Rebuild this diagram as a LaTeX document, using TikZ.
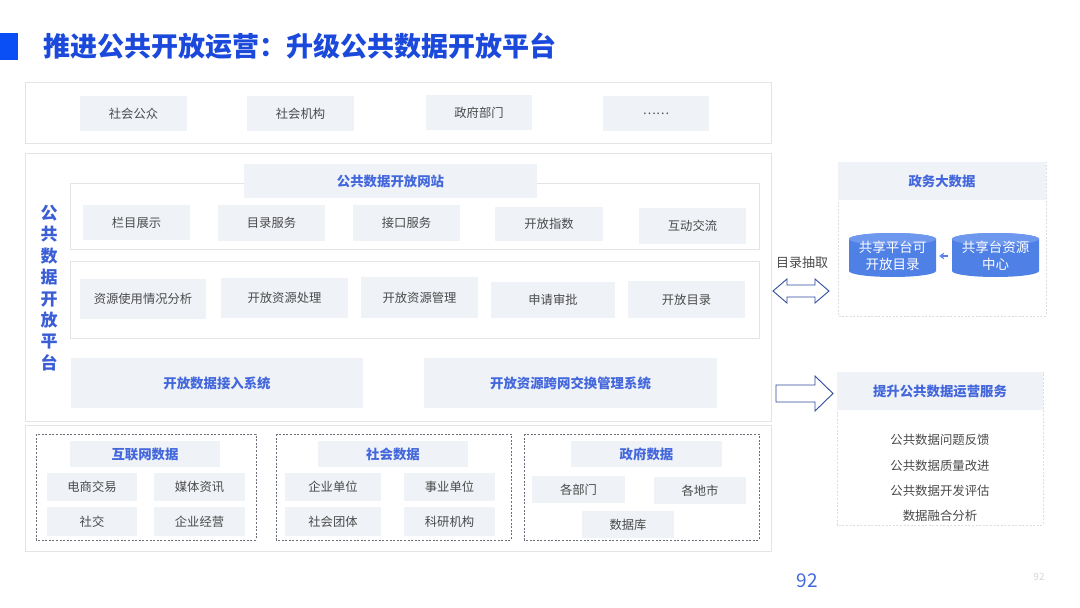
\documentclass[tikz,border=0pt]{standalone}
\usepackage{fontspec}
\setmainfont{Noto Sans CJK SC}
\usetikzlibrary{arrows.meta}
\definecolor{titleblue}{HTML}{1B49DC}
\definecolor{squareblue}{HTML}{0A4FF5}
\definecolor{headblue}{HTML}{4468DC}
\definecolor{vertblue}{HTML}{3B5ED6}
\definecolor{framegray}{HTML}{E2E4E8}
\definecolor{itemfill}{HTML}{EFF2F7}
\definecolor{txtgray}{HTML}{4A4A4A}
\definecolor{grpgray}{HTML}{6A6E78}
\definecolor{lightdash}{HTML}{DADDE4}
\definecolor{cylbody}{HTML}{4F80E6}
\definecolor{cyltop}{HTML}{6E98EE}
\definecolor{arrowline}{HTML}{2E4C9E}
\definecolor{pagegray}{HTML}{D8D8D8}
\begin{document}
\begin{tikzpicture}[x=1pt,y=-1pt,
  frame/.style={draw=framegray, line width=0.9pt, fill=white},
  itembox/.style={fill=itemfill, text=txtgray, font=\fontsize{12.3}{14}\selectfont, inner sep=0pt},
  headbox/.style={fill=itemfill, text=headblue, font=\fontsize{13.4}{16}\bfseries\selectfont, inner sep=0pt},
  grp/.style={draw=grpgray, line width=0.7pt, dash pattern=on 2pt off 1.6pt},
  rbox/.style={draw=lightdash, line width=0.7pt, dash pattern=on 2pt off 1.6pt, fill=white},
  blockarrow/.style={draw=arrowline, line width=0.9pt, fill=white, line join=miter},
  cyltext/.style={text=white, font=\fontsize{13.5}{17}\selectfont, align=center, inner sep=0pt},
  listtext/.style={text=txtgray, font=\fontsize{12.4}{14}\selectfont, inner sep=0pt}
]
\useasboundingbox (0,0) rectangle (1080,608);
\fill[white] (0,0) rectangle (1080,608);

% title
\fill[squareblue] (0,33) rectangle (18,60);
\node[anchor=west, text=titleblue, font=\fontsize{27}{30}\bfseries\selectfont, inner sep=0pt] (title) at (43,46) {推进公共开放运营：升级公共数据开放平台};

% top users row
\draw[frame] (25,82) rectangle (771,143);
\node[itembox, minimum width=107pt, minimum height=35pt] (u1) at (133.5,113.5) {社会公众};
\node[itembox, minimum width=107pt, minimum height=35pt] (u2) at (300.5,113.5) {社会机构};
\node[itembox, minimum width=106pt, minimum height=35pt] (u3) at (479,112.5) {政府部门};
\node[itembox, minimum width=106pt, minimum height=35pt] (u4) at (656,113.5) {……};

% platform
\draw[frame] (25,153) rectangle (771,421);
\node[text=vertblue, font=\fontsize{17}{21.4}\bfseries\selectfont, align=center, inner sep=0pt] (vlabel) at (49,288) {公\\共\\数\\据\\开\\放\\平\\台};

\draw[frame] (70,183) rectangle (759,249);
\node[headbox, minimum width=293pt, minimum height=34pt] (web) at (390.5,181) {公共数据开放网站};
\node[itembox, minimum width=107pt, minimum height=35pt] (w1) at (136.5,222.5) {栏目展示};
\node[itembox, minimum width=107pt, minimum height=36pt] (w2) at (271.5,223) {目录服务};
\node[itembox, minimum width=107pt, minimum height=36pt] (w3) at (406.5,223) {接口服务};
\node[itembox, minimum width=108pt, minimum height=34pt] (w4) at (549,224) {开放指数};
\node[itembox, minimum width=107pt, minimum height=36pt] (w5) at (692.5,226) {互动交流};

\draw[frame] (70,261) rectangle (759,338);
\node[itembox, minimum width=126pt, minimum height=40pt] (m1) at (143,299) {资源使用情况分析};
\node[itembox, minimum width=127pt, minimum height=40pt] (m2) at (284.5,298) {开放资源处理};
\node[itembox, minimum width=117pt, minimum height=41pt] (m3) at (419.5,297.5) {开放资源管理};
\node[itembox, minimum width=124pt, minimum height=36pt] (m4) at (553,300) {申请审批};
\node[itembox, minimum width=117pt, minimum height=37pt] (m5) at (686.5,299.5) {开放目录};

\node[headbox, minimum width=292pt, minimum height=50pt] (s1) at (217,383) {开放数据接入系统};
\node[headbox, minimum width=293pt, minimum height=50pt] (s2) at (570.5,383) {开放资源跨网交换管理系统};

% data sources
\draw[frame] (25,425) rectangle (771,551);
\draw[grp] (36,434) rectangle (256,540);
\node[headbox, minimum width=150pt, minimum height=26pt] (g1) at (145,454) {互联网数据};
\node[itembox, minimum width=90pt, minimum height=28pt] (g1a) at (92,487) {电商交易};
\node[itembox, minimum width=91pt, minimum height=28pt] (g1b) at (199.5,487) {媒体资讯};
\node[itembox, minimum width=90pt, minimum height=29pt] (g1c) at (92,521.5) {社交};
\node[itembox, minimum width=91pt, minimum height=29pt] (g1d) at (199.5,521.5) {企业经营};

\draw[grp] (276,434) rectangle (511,540);
\node[headbox, minimum width=150pt, minimum height=26pt] (g2) at (393,454) {社会数据};
\node[itembox, minimum width=96pt, minimum height=28pt] (g2a) at (333,487) {企业单位};
\node[itembox, minimum width=91pt, minimum height=28pt] (g2b) at (449.5,487) {事业单位};
\node[itembox, minimum width=96pt, minimum height=29pt] (g2c) at (333,521.5) {社会团体};
\node[itembox, minimum width=91pt, minimum height=29pt] (g2d) at (449.5,521.5) {科研机构};

\draw[grp] (524,434) rectangle (759,540);
\node[headbox, minimum width=151pt, minimum height=26pt] (g3) at (646.5,454) {政府数据};
\node[itembox, minimum width=93pt, minimum height=27pt] (g3a) at (578.5,489.5) {各部门};
\node[itembox, minimum width=92pt, minimum height=27pt] (g3b) at (700,490.5) {各地市};
\node[itembox, minimum width=92pt, minimum height=27pt] (g3c) at (628,524.5) {数据库};

% right: government big data
\draw[rbox] (838,162) rectangle (1046,316);
\node[headbox, minimum width=208pt, minimum height=38pt] (gov) at (942,181) {政务大数据};

% cylinders
\fill[cylbody] (849,239) -- (849,271) arc[start angle=180, end angle=0, x radius=43.5, y radius=6] -- (936,239) arc[start angle=360, end angle=180, x radius=43.5, y radius=6] -- cycle;
\fill[cyltop] (892.5,239) ellipse[x radius=43.5, y radius=6];
\fill[cylbody] (952,239) -- (952,271) arc[start angle=180, end angle=0, x radius=43.5, y radius=6] -- (1039,239) arc[start angle=360, end angle=180, x radius=43.5, y radius=6] -- cycle;
\fill[cyltop] (995.5,239) ellipse[x radius=43.5, y radius=6];
\node[cyltext, minimum width=87pt] (cyl1) at (892.5,256) {共享平台可\\开放目录};
\node[cyltext, minimum width=87pt] (cyl2) at (995.5,256) {共享台资源\\中心};
\draw[cylbody, line width=1.3pt, -{Stealth[open, length=5pt, width=7pt]}, shorten <=4pt, shorten >=3pt] (cyl2.west) -- (cyl1.east);

% double arrow and label
\node[text=txtgray, font=\fontsize{13}{15}\selectfont, inner sep=0pt] (extract) at (802,263) {目录抽取};
\draw[blockarrow] (773,291) -- (787,279) -- (787,285) -- (815,285) -- (815,279) -- (829,291) -- (815,303) -- (815,297) -- (787,297) -- (787,303) -- cycle;

% right arrow
\draw[blockarrow] (776,385) -- (815,385) -- (815,376) -- (833,393.5) -- (815,411) -- (815,402) -- (776,402) -- cycle;

% right: service box
\draw[rbox] (837,372) rectangle (1043,525);
\node[headbox, minimum width=206pt, minimum height=38pt] (svc) at (940,391) {提升公共数据运营服务};
\node[listtext] (l1) at (940,440) {公共数据问题反馈};
\node[listtext] (l2) at (940,466) {公共数据质量改进};
\node[listtext] (l3) at (940,491) {公共数据开发评估};
\node[listtext] (l4) at (940,516) {数据融合分析};

% page numbers
\node[text=headblue, font=\fontsize{19}{22}\selectfont, inner sep=0pt] (pg) at (807,581) {92};
\node[text=pagegray, font=\fontsize{10}{12}\selectfont, inner sep=0pt] (pg2) at (1039,577) {92};
\end{tikzpicture}
\end{document}
